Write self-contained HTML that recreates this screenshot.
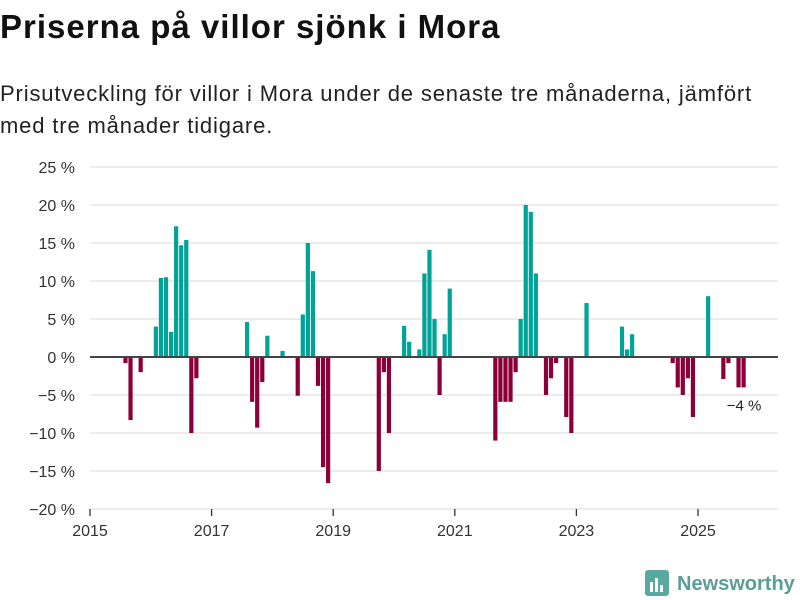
<!DOCTYPE html>
<html><head><meta charset="utf-8"><style>
body{margin:0;width:800px;height:600px;background:#fff;font-family:"Liberation Sans","DejaVu Sans",sans-serif;overflow:hidden;position:relative}
h1{position:absolute;left:0;top:8px;margin:0;font-size:33px;font-weight:bold;color:#111;letter-spacing:1px}
.sub{position:absolute;left:0;top:78px;margin:0;font-size:22px;line-height:32px;color:#222;width:800px;letter-spacing:0.85px;white-space:nowrap}
svg{position:absolute;left:0;top:0}
</style></head><body>
<h1>Priserna på villor sjönk i Mora</h1>
<p class="sub">Prisutveckling för villor i Mora under de senaste tre månaderna, jämfört<br>med tre månader tidigare.</p>
<svg id="chart" width="800" height="600"></svg>
<script>
const months=[7,8,10,13,14,15,16,17,18,19,20,21,31,32,33,34,35,38,41,42,43,44,45,46,47,57,58,59,62,63,65,66,67,68,69,70,71,80,81,82,83,84,85,86,87,88,90,91,92,94,95,98,105,106,107,115,116,117,118,119,122,125,126,128,129];
const values=[-0.8,-8.3,-2,4,10.4,10.5,3.3,17.2,14.7,15.4,-10,-2.8,4.6,-5.9,-9.3,-3.3,2.8,0.8,-5.1,5.6,15,11.3,-3.8,-14.5,-16.6,-15,-2,-10,4.1,2,1,11,14.1,5,-5,3,9,-11,-5.9,-5.9,-5.9,-2,5,20,19.1,11,-5,-2.8,-0.8,-7.9,-10,7.1,4,1,3,-0.8,-4,-5,-2.8,-7.9,8,-2.9,-0.8,-4,-4];
const yTicks=[25,20,15,10,5,0,-5,-10,-15,-20];
const xTicks=[2015,2017,2019,2021,2023,2025];
const NS="http://www.w3.org/2000/svg";
const svg=document.getElementById('chart');
const X0=90,X1=778,PXM=60.8/12;
const xm=m=>X0+m*PXM;
const yv=v=>357-v*7.6;
function el(t,a){const e=document.createElementNS(NS,t);for(const k in a)e.setAttribute(k,a[k]);svg.appendChild(e);return e;}
yTicks.forEach(t=>{
 if(t!==0){const g=el('line',{x1:X0,x2:X1,y1:yv(t),y2:yv(t),stroke:'#e0e0e0','stroke-width':1.3});
 
 }
 const tx=el('text',{x:75,y:yv(t)+6,'text-anchor':'end','font-size':16,fill:'#333'});
 tx.textContent=(t<0?'\u2212'+(-t):t)+' %';
 
 
});
xTicks.forEach(y=>{
 const x=xm((y-2015)*12);
 const tk=el('line',{x1:x,x2:x,y1:509,y2:516,stroke:'#333','stroke-width':1.3});
 
 
 const tx=el('text',{x:x,y:536,'text-anchor':'middle','font-size':16,fill:'#333'});
 tx.textContent=y;
 
 
});
months.forEach((m,i)=>{
 const v=values[i],c=xm(m),y0=yv(0),y1=yv(v);
 const r=el('rect',{x:c-2.1,width:4.2,y:Math.min(y0,y1),height:Math.abs(y1-y0),fill:v>=0?'#00a398':'#8b0038'});
 
 
});
const zl=el('line',{x1:X0,x2:X1,y1:yv(0),y2:yv(0),stroke:'#444','stroke-width':2});


const lv=values[values.length-1];
const lab=el('text',{x:744,y:yv(lv)+23,'text-anchor':'middle','font-size':15,fill:'#222'});
lab.textContent=(lv<0?'\u2212'+(-lv):lv)+' %';


</script>
<svg width="800" height="600" style="pointer-events:none">
<rect x="645" y="570" width="24" height="26" rx="3" fill="#5aa9a0"/>
<rect x="650" y="582" width="3" height="10" fill="#fff"/><rect x="655" y="578" width="3" height="14" fill="#fff"/><rect x="660" y="585" width="3" height="7" fill="#fff"/>
<text x="677" y="590" font-size="20" font-weight="bold" fill="#5a9e96" font-family="Liberation Sans, sans-serif">Newsworthy</text>
</svg>
</body></html>
